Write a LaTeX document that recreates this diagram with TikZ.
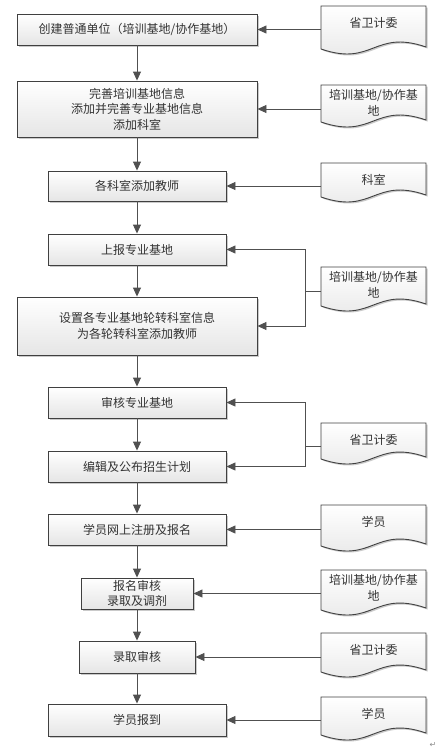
\documentclass[tikz,border=0pt]{standalone}
\usepackage{fontspec}
\setmainfont{Noto Sans CJK SC}
\newfontfamily\symfont{DejaVu Sans}
\usetikzlibrary{arrows.meta,shadows}
\definecolor{edge}{HTML}{404040}
\definecolor{conn}{HTML}{505050}
\definecolor{txt}{HTML}{333333}
\tikzset{
  procbox/.style={draw=edge, line width=0.9pt, top color=white, bottom color=black!10,
    drop shadow={shadow xshift=1.5pt, shadow yshift=-1.5pt, fill=black!35, opacity=0.6},
    text=txt, font=\fontsize{12}{15.5}\selectfont, align=center, inner sep=0pt},
  doctext/.style={text=txt, font=\fontsize{12}{16}\selectfont, align=center, inner sep=0pt},
  flow/.style={draw=conn, line width=0.9pt, -{Triangle[length=9pt,width=8pt]}},
  link/.style={draw=conn, line width=0.9pt},
}
\newcommand\docsheet[2]{%
  \fill[black!35, opacity=0.6, xshift=1.5pt, yshift=-1.5pt]
    (321,#1) -- (426,#1) -- (426,{#1+#2-2})
    .. controls (373.5,{#1+#2-20}) and (373.5,{#1+#2+18}) .. (321,{#1+#2}) -- cycle;
  \path[draw=edge, line width=0.9pt, top color=white, bottom color=black!10]
    (321,#1) -- (426,#1) -- (426,{#1+#2-2})
    .. controls (373.5,{#1+#2-20}) and (373.5,{#1+#2+18}) .. (321,{#1+#2}) -- cycle;
}
\begin{document}
\begin{tikzpicture}[x=1pt,y=-1pt]
\useasboundingbox (0,0) rectangle (444,755);
% process boxes
\node[procbox, minimum width=240pt, minimum height=31pt] (b1) at (137,29.5) {创建普通单位（培训基地/协作基地）};
\node[procbox, minimum width=240pt, minimum height=56pt] (b2) at (137,109) {完善培训基地信息\\添加并完善专业基地信息\\添加科室};
\node[procbox, minimum width=178pt, minimum height=30pt] (b3) at (137,186) {各科室添加教师};
\node[procbox, minimum width=178pt, minimum height=31pt] (b4) at (137,249.5) {上报专业基地};
\node[procbox, minimum width=240pt, minimum height=58pt] (b5) at (137,326) {设置各专业基地轮转科室信息\\为各轮转科室添加教师};
\node[procbox, minimum width=178pt, minimum height=31pt] (b6) at (137,402.5) {审核专业基地};
\node[procbox, minimum width=178pt, minimum height=31pt] (b7) at (137,466.5) {编辑及公布招生计划};
\node[procbox, minimum width=178pt, minimum height=31pt] (b8) at (137,529.5) {学员网上注册及报名};
\node[procbox, minimum width=112pt, minimum height=31pt] (b9) at (137,593.5) {报名审核\\录取及调剂};
\node[procbox, minimum width=116pt, minimum height=32pt] (b10) at (137,657) {录取审核};
\node[procbox, minimum width=178pt, minimum height=32pt] (b11) at (137,720) {学员报到};
% document shapes
\docsheet{6}{43}
\docsheet{85}{37}
\docsheet{163}{34}
\docsheet{267}{39}
\docsheet{423}{36}
\docsheet{505}{41}
\docsheet{570}{40}
\docsheet{633}{39}
\docsheet{697}{38}
\node[doctext] (d1) at (373.5,23) {省卫计委};
\node[doctext] (d2) at (373.5,103) {培训基地/协作基\\地};
\node[doctext] (d3) at (373.5,180) {科室};
\node[doctext] (d4) at (373.5,285) {培训基地/协作基\\地};
\node[doctext] (d5) at (373.5,440) {省卫计委};
\node[doctext] (d6) at (373.5,522) {学员};
\node[doctext] (d7) at (373.5,588) {培训基地/协作基\\地};
\node[doctext] (d8) at (373.5,650) {省卫计委};
\node[doctext] (d9) at (373.5,714) {学员};
% connector anchors on document left edges
\coordinate (c1) at (321,29.5);
\coordinate (c2) at (321,109);
\coordinate (c3) at (321,186);
\coordinate (c4) at (321,291.7);
\coordinate (j4) at (305,291.7);
\coordinate (c5) at (321,446.7);
\coordinate (j5) at (305,446.7);
\coordinate (c6) at (321,529.5);
\coordinate (c7) at (321,593.5);
\coordinate (c8) at (321,657);
\coordinate (c9) at (321,720);
% vertical flow
\draw[flow] (b1) -- (b2);
\draw[flow] (b2) -- (b3);
\draw[flow] (b3) -- (b4);
\draw[flow] (b4) -- (b5);
\draw[flow] (b5) -- (b6);
\draw[flow] (b6) -- (b7);
\draw[flow] (b7) -- (b8);
\draw[flow] (b8) -- (b9);
\draw[flow] (b9) -- (b10);
\draw[flow] (b10) -- (b11);
% horizontal inputs
\draw[flow] (c1) -- (b1.east);
\draw[flow] (c2) -- (b2.east);
\draw[flow] (c3) -- (b3.east);
\draw[link] (c4) -- (j4);
\draw[flow] (j4) |- (b4.east);
\draw[flow] (j4) |- (b5.east);
\draw[link] (c5) -- (j5);
\draw[flow] (j5) |- (b6.east);
\draw[flow] (j5) |- (b7.east);
\draw[flow] (c6) -- (b8.east);
\draw[flow] (c7) -- (b9.east);
\draw[flow] (c8) -- (b10.east);
\draw[flow] (c9) -- (b11.east);
\node[text=black!45, font=\symfont\fontsize{8}{8}\selectfont, inner sep=0pt] (ret) at (433,745) {↵};
\end{tikzpicture}
\end{document}
